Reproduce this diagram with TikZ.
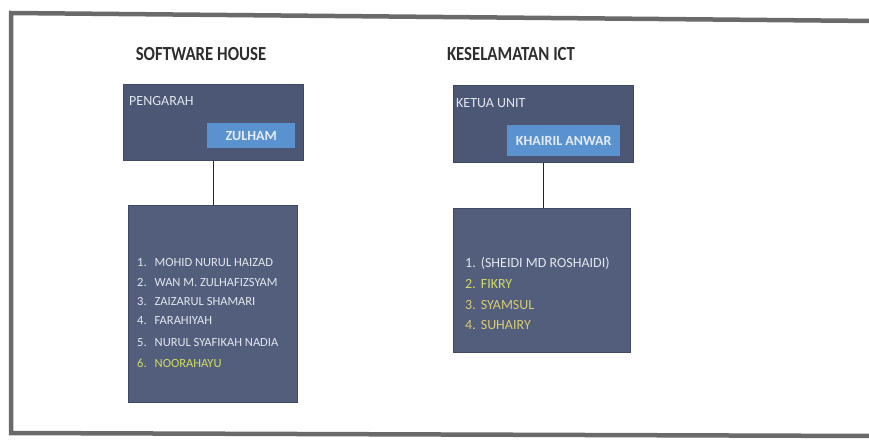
\documentclass[tikz,border=0pt]{standalone}
\usepackage{fontspec}
\setmainfont{Carlito}
\newfontfamily\titlefont[FakeStretch=0.84]{Carlito}
\definecolor{panel}{HTML}{4C5675}
\definecolor{panellow}{HTML}{535E7C}
\definecolor{paneledge}{HTML}{3F4862}
\definecolor{namebox}{HTML}{5A91CF}
\definecolor{nametext}{HTML}{E4ECF7}
\definecolor{framegray}{HTML}{6A6A6A}
\definecolor{listtext}{HTML}{E2E6EE}
\definecolor{hiGreen}{HTML}{CFDD62}
\definecolor{hiYellow}{HTML}{D9CB73}
\definecolor{titleink}{HTML}{2E2E2E}
\tikzset{
  panelbox/.style={draw=paneledge, line width=0.8pt, fill=panel, anchor=north west, inner sep=0pt},
  lowbox/.style={draw=paneledge, line width=0.8pt, fill=panellow, anchor=north west, inner sep=0pt},
  namebar/.style={fill=namebox, anchor=north west, inner sep=0pt, text=nametext, font=\bfseries\fontsize{14}{16}\selectfont},
  heading/.style={text=titleink, font=\titlefont\bfseries\fontsize{20}{24}\selectfont, inner sep=0pt},
  rolelabel/.style={anchor=west, inner sep=0pt, text=listtext, font=\fontsize{14}{16}\selectfont},
  item/.style={anchor=west, inner sep=0pt, text=listtext, font=\fontsize{12.5}{15}\selectfont},
  itemwide/.style={item, font=\fontsize{14}{16}\selectfont},
  link/.style={draw=black!85, line width=1.4pt},
  border/.style={draw=framegray, line width=4.5pt}
}
\begin{document}
\begin{tikzpicture}[x=1pt,y=-1pt]
  \useasboundingbox (0,0) rectangle (869,439);
  \fill[white] (0,0) rectangle (869,439);

  % outer frame, open on the right
  \draw[border] (875,21) -- (11,13) -- (11,433) -- (875,436);

  % headings
  \node[heading] (h1) at (201,54) {SOFTWARE HOUSE};
  \node[heading] (h2) at (511,54) {KESELAMATAN ICT};

  % Software House: head box
  \node[panelbox, minimum width=180pt, minimum height=76pt] (shtop) at (123,84) {};
  \node[rolelabel] (shrole) at (129,101) {PENGARAH};
  \node[namebar, minimum width=88pt, minimum height=25pt] (shname) at (207,123) {ZULHAM};

  % Software House: member box
  \node[lowbox, minimum width=169pt, minimum height=197pt] (shlist) at (128,205) {};
  \node[item] (s1) at (137,262) {1.\hspace{8pt}MOHID NURUL HAIZAD};
  \node[item] (s2) at (137,282) {2.\hspace{8pt}WAN M. ZULHAFIZSYAM};
  \node[item] (s3) at (137,301) {3.\hspace{8pt}ZAIZARUL SHAMARI};
  \node[item] (s4) at (137,321) {4.\hspace{8pt}FARAHIYAH};
  \node[item] (s5) at (137,342) {5.\hspace{8pt}NURUL SYAFIKAH NADIA};
  \node[item, text=hiGreen] (s6) at (137,363) {6.\hspace{8pt}NOORAHAYU};

  \draw[link] (shtop.south) -- (shtop.south |- shlist.north);

  % Keselamatan ICT: head box
  \node[panelbox, minimum width=180pt, minimum height=77pt] (kitop) at (453,85) {};
  \node[rolelabel] (kirole) at (456,103) {KETUA UNIT};
  \node[namebar, minimum width=113pt, minimum height=31pt] (kiname) at (507,125) {KHAIRIL ANWAR};

  % Keselamatan ICT: member box
  \node[lowbox, minimum width=177pt, minimum height=144pt] (kilist) at (453,208) {};
  \node[itemwide] (k1) at (465,263) {1.\hspace{5pt}(SHEIDI MD ROSHAIDI)};
  \node[itemwide, text=hiGreen] (k2) at (465,284) {2.\hspace{5pt}FIKRY};
  \node[itemwide, text=hiYellow] (k3) at (465,305) {3.\hspace{5pt}SYAMSUL};
  \node[itemwide, text=hiYellow] (k4) at (465,325) {4.\hspace{5pt}SUHAIRY};

  \draw[link] (kitop.south) -- (kitop.south |- kilist.north);
\end{tikzpicture}
\end{document}
